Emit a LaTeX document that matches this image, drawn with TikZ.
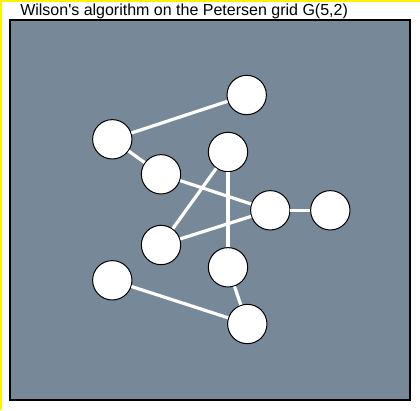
\documentclass[tikz,border=0pt]{standalone}
\usepackage{fontspec}
\setmainfont{Liberation Sans}
\begin{document}
\begin{tikzpicture}[x=0.75pt,y=-0.75pt,
  vtx/.style={circle,fill=white,draw=black,line width=0.75pt,minimum size=29.5pt,inner sep=0pt},
  edg/.style={white,line width=2.4pt}]
\useasboundingbox (0,0) rectangle (420,410);
\definecolor{slate}{HTML}{778899}
\draw[yellow,line width=1.5pt] (0.75,410) -- (0.75,0.75) -- (420,0.75);
\draw[fill=slate,draw=black,line width=0.9pt] (10,20) rectangle (410,400);
\node[anchor=base west,inner sep=0pt,font=\fontsize{12pt}{14pt}\selectfont] (title) at (20,16) {Wilson\textquotesingle s algorithm on the Petersen grid G(5,2)};
\node[vtx] (A) at (246.7,95) {};
\node[vtx] (B) at (112.3,139.3) {};
\node[vtx] (C) at (161,174.3) {};
\node[vtx] (D) at (228,152) {};
\node[vtx] (E) at (270.3,210.3) {};
\node[vtx] (F) at (330.3,210.3) {};
\node[vtx] (G) at (161,245) {};
\node[vtx] (H) at (228,267.3) {};
\node[vtx] (I) at (112.3,280.3) {};
\node[vtx] (J) at (247.3,324) {};
\draw[edg] (A) -- (B);
\draw[edg] (B) -- (C);
\draw[edg] (C) -- (E);
\draw[edg] (D) -- (G);
\draw[edg] (D) -- (H);
\draw[edg] (G) -- (E);
\draw[edg] (E) -- (F);
\draw[edg] (H) -- (J);
\draw[edg] (I) -- (J);
\end{tikzpicture}
\end{document}
